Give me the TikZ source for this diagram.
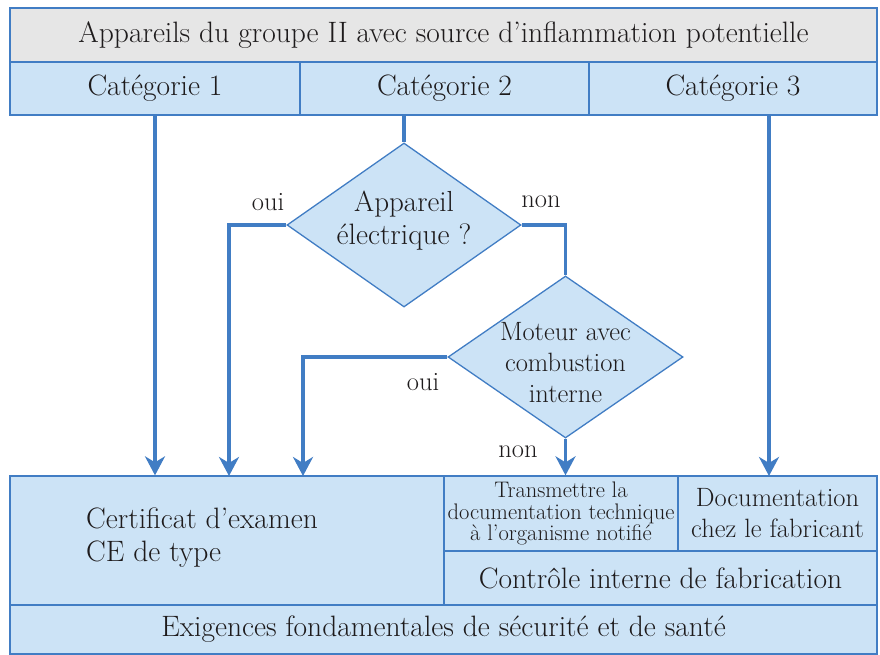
\documentclass[tikz,border=0pt]{standalone}
\usetikzlibrary{shapes.geometric,arrows.meta}
\definecolor{lineblue}{HTML}{417DC4}
\definecolor{fillblue}{HTML}{CCE3F6}
\definecolor{headgrey}{HTML}{E6E6E6}
\definecolor{txt}{HTML}{1E1B1C}
\newcommand\fsbig{\fontsize{29.5}{33}\selectfont}
\newcommand\fsmid{\fontsize{26.5}{31}\selectfont}
\newcommand\fssmall{\fontsize{22.5}{21.5}\selectfont}
\begin{document}
\begin{tikzpicture}[x=1pt,y=-1pt,
  box/.style={draw=lineblue,line width=1.3pt,fill=fillblue,rectangle,inner sep=0pt,text=txt,align=center},
  dia/.style={draw=lineblue,line width=1.3pt,fill=fillblue,diamond,inner sep=0pt},
  lbl/.style={text=txt,inner sep=0pt,align=center},
  ln/.style={draw=lineblue,line width=3.6pt},
  arr/.style={ln,-{Stealth[length=19pt,width=20pt,inset=6pt]}}]
\useasboundingbox (0,0) rectangle (880,655);
% top
\node[box,fill=headgrey,minimum width=867pt,minimum height=54pt,font=\fsbig] (head) at (443.5,35) {Appareils du groupe II avec source d’inflammation potentielle};
\node[box,minimum width=290pt,minimum height=53pt,font=\fsbig] (cat1) at (155,88.5) {Catégorie 1};
\node[box,minimum width=289pt,minimum height=53pt,font=\fsbig] (cat2) at (444.5,88.5) {Catégorie 2};
\node[box,minimum width=288pt,minimum height=53pt,font=\fsbig] (cat3) at (733,88.5) {Catégorie 3};
% bottom
\node[box,minimum width=434pt,minimum height=129pt] (cert) at (227,540.5) {};
\node[lbl,anchor=west,align=left,font=\fsbig] (certt) at (86,538) {Certificat d’examen\\CE de type};
\node[box,minimum width=234pt,minimum height=75pt,font=\fssmall] (trans) at (561,513.5) {Transmettre la\\documentation technique\\à l’organisme notifié};
\node[box,minimum width=199pt,minimum height=75pt,font=\fsmid,align=center] (doc) at (777.5,513.5) {\fontsize{26.5}{29.5}\selectfont Documentation\\chez le fabricant};
\node[box,minimum width=433pt,minimum height=54pt,font=\fsbig] (ctrl) at (660.5,578) {Contrôle interne de fabrication};
\node[box,minimum width=867pt,minimum height=49pt,font=\fsbig] (exig) at (443.5,629.5) {Exigences fondamentales de sécurité et de santé};
% diamonds
\node[dia,minimum width=234pt,minimum height=164pt] (d1) at (404,225) {};
\node[lbl,font=\fsbig] (d1t) at (404,221) {\fontsize{29}{35}\selectfont Appareil\\électrique ?};
\node[dia,minimum width=235pt,minimum height=162pt] (d2) at (565.5,357) {};
\node[lbl,font=\fsmid] (d2t) at (565.5,363) {Moteur avec\\combustion\\interne};
% labels
\node[lbl,font=\fsmid] (oui1) at (268,202) {oui};
\node[lbl,font=\fsmid] (non1) at (541,202) {non};
\node[lbl,font=\fsmid] (oui2) at (423,382) {oui};
\node[lbl,font=\fsmid] (non2) at (518,452) {non};
% connectors
\coordinate (c1) at (229,476);
\coordinate (c2) at (303,476);
\coordinate (c3) at (769,476);
\draw[arr] (cat1.south) -- (cat1.south |- cert.north);
\draw[ln] (d1.north |- cat2.south) -- (d1.north);
\draw[arr] (d1.west) -| (c1);
\draw[ln] (d1.east) -| (d2.north);
\draw[arr] (d2.west) -| (c2);
\draw[arr] (d2.south) -- (d2.south |- trans.north);
\draw[arr] (c3 |- cat3.south) -- (c3);
\end{tikzpicture}
\end{document}
